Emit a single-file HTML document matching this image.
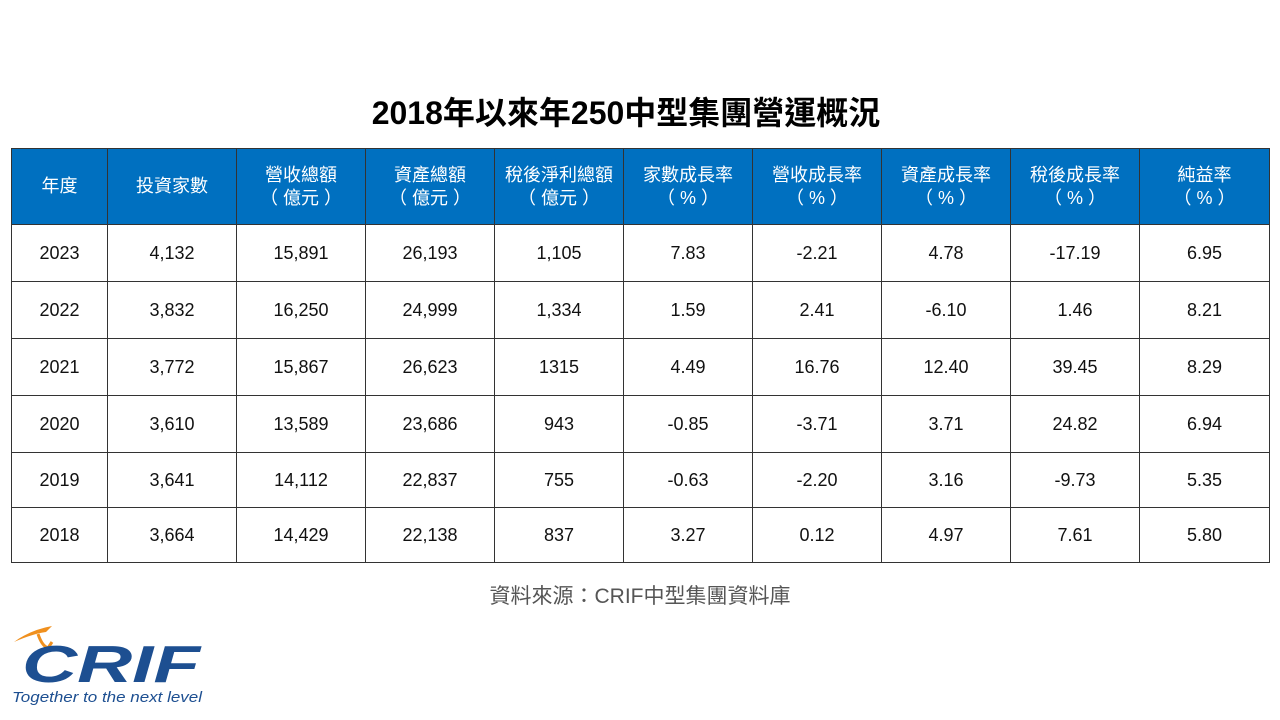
<!DOCTYPE html>
<html><head><meta charset="utf-8"><style>
body{margin:0;width:1280px;height:720px;background:#fff;position:relative;overflow:hidden;font-family:"Liberation Sans","Noto Sans CJK TC",sans-serif}
h1{position:absolute;top:88px;left:0;width:1252px;text-align:center;margin:0;font-size:32px;font-weight:bold;color:#000;font-family:"Liberation Sans","Noto Sans CJK TC",sans-serif}
table{position:absolute;left:11px;top:148px;border-collapse:collapse;table-layout:fixed}
td,th{border:1px solid #333;text-align:center;font-size:18px;color:#111;padding:0;font-weight:normal}
th{background:#0070C0;color:#fff;height:75px;line-height:23px;font-size:18px}
td{height:56px}
tr.s td{height:54px}
.src{position:absolute;top:580px;left:0;width:1280px;text-align:center;font-size:21px;color:#555}
</style></head><body>
<h1>2018年以來年250中型集團營運概況</h1>
<table>
<colgroup><col style="width:96px"><col style="width:129px"><col style="width:129px"><col style="width:129px"><col style="width:129px"><col style="width:129px"><col style="width:129px"><col style="width:129px"><col style="width:129px"><col style="width:130px"></colgroup>
<tr><th>年度</th><th>投資家數</th><th>營收總額<br>（ 億元 ）</th><th>資產總額<br>（ 億元 ）</th><th>稅後淨利總額<br>（ 億元 ）</th><th>家數成長率<br>（ % ）</th><th>營收成長率<br>（ % ）</th><th>資產成長率<br>（ % ）</th><th>稅後成長率<br>（ % ）</th><th>純益率<br>（ % ）</th></tr>
<tr><td>2023</td><td>4,132</td><td>15,891</td><td>26,193</td><td>1,105</td><td>7.83</td><td>-2.21</td><td>4.78</td><td>-17.19</td><td>6.95</td></tr>
<tr><td>2022</td><td>3,832</td><td>16,250</td><td>24,999</td><td>1,334</td><td>1.59</td><td>2.41</td><td>-6.10</td><td>1.46</td><td>8.21</td></tr>
<tr><td>2021</td><td>3,772</td><td>15,867</td><td>26,623</td><td>1315</td><td>4.49</td><td>16.76</td><td>12.40</td><td>39.45</td><td>8.29</td></tr>
<tr><td>2020</td><td>3,610</td><td>13,589</td><td>23,686</td><td>943</td><td>-0.85</td><td>-3.71</td><td>3.71</td><td>24.82</td><td>6.94</td></tr>
<tr class="s"><td>2019</td><td>3,641</td><td>14,112</td><td>22,837</td><td>755</td><td>-0.63</td><td>-2.20</td><td>3.16</td><td>-9.73</td><td>5.35</td></tr>
<tr class="s"><td>2018</td><td>3,664</td><td>14,429</td><td>22,138</td><td>837</td><td>3.27</td><td>0.12</td><td>4.97</td><td>7.61</td><td>5.80</td></tr>
</table>
<div class="src">資料來源：CRIF中型集團資料庫</div>
<svg style="position:absolute;left:10px;top:620px" width="200" height="90">
<path d="M4 22 Q20 10 42 6 L36 12 Q22 14 4 22Z" fill="#f0901e"/>
<path d="M28 14 Q32 26 38 28 L42 22" stroke="#f0901e" stroke-width="3" fill="none"/>
<text x="12" y="62" font-family="Liberation Sans,sans-serif" font-size="52" font-weight="bold" font-style="italic" fill="#1d4f91" textLength="178" lengthAdjust="spacingAndGlyphs">CRIF</text>
<text x="2" y="82" font-family="Liberation Sans,sans-serif" font-size="15" font-style="italic" fill="#1d4f91" textLength="190" lengthAdjust="spacingAndGlyphs">Together to the next level</text>
</svg>
</body></html>
